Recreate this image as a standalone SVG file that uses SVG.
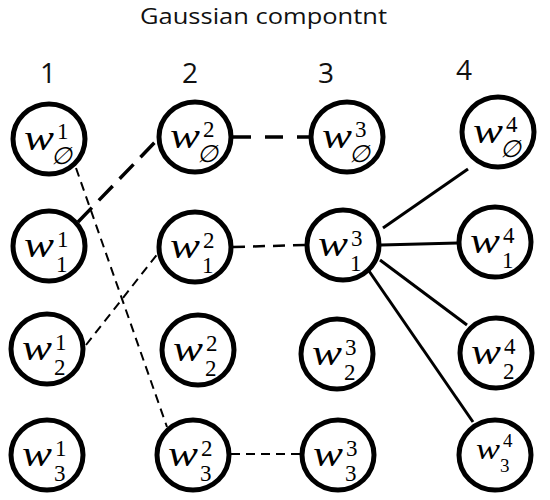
<svg xmlns="http://www.w3.org/2000/svg" width="550" height="500" viewBox="0 0 550 500">
<style>
.title{font-family:"Open Sans","Liberation Sans",sans-serif;font-size:22px;fill:#111}
.col{font-family:"Open Sans","Liberation Sans",sans-serif;font-size:28px;fill:#111;text-anchor:middle}
.nd{fill:#fff;stroke:#000;stroke-width:5}
.w{font-family:"Liberation Serif","DejaVu Serif",serif;font-style:italic;font-size:36px;fill:#000}
.s{font-family:"Liberation Serif","DejaVu Serif",serif;font-size:23px;fill:#000}
.e{font-family:"DejaVu Serif","Liberation Serif",serif;font-style:italic;font-size:24px;fill:#000}
.ln{fill:none;stroke:#000}
.thin{stroke-width:2;stroke-dasharray:9 6}
.thick{stroke-width:3.5;stroke-dasharray:20 10}
.solid{stroke-width:3}
</style>
<text class="title" x="140" y="24" textLength="247" lengthAdjust="spacingAndGlyphs">Gaussian compontnt</text>
<text class="col" x="48" y="83">1</text>
<text class="col" x="190" y="83">2</text>
<text class="col" x="326" y="83">3</text>
<text class="col" x="464" y="80">4</text>
<g id="connectors">
<line class="ln thin" x1="76" y1="168" x2="167" y2="427"/>
<line class="ln thick" x1="78" y1="222" x2="158" y2="139"/>
<line class="ln thick" x1="233" y1="137" x2="311" y2="137" style="stroke-dasharray:18 14"/>
<line class="ln thin" x1="86" y1="345" x2="159" y2="252"/>
<line class="ln thin" x1="233" y1="247" x2="306" y2="245" style="stroke-width:2.5;stroke-dasharray:12 8"/>
<line class="ln thin" x1="231" y1="454" x2="301" y2="454"/>
<line class="ln solid" x1="383" y1="228" x2="468" y2="169"/>
<line class="ln solid" x1="381" y1="245" x2="458" y2="243"/>
<line class="ln solid" x1="380" y1="260" x2="467" y2="325"/>
<line class="ln solid" x1="369" y1="271" x2="473" y2="422"/>
</g>
<g id="n1_0"><ellipse class="nd" cx="49" cy="139" rx="36" ry="35"/><text class="w" x="24" y="150" textLength="30" lengthAdjust="spacingAndGlyphs">w</text><text class="s" x="57" y="139">1</text><text class="e" x="51" y="164">∅</text></g>
<g id="n1_1"><ellipse class="nd" cx="49" cy="246" rx="36" ry="35"/><text class="w" x="24" y="257" textLength="30" lengthAdjust="spacingAndGlyphs">w</text><text class="s" x="57" y="247">1</text><text class="s" x="56" y="272">1</text></g>
<g id="n1_2"><ellipse class="nd" cx="47" cy="349" rx="36" ry="35"/><text class="w" x="22" y="360" textLength="30" lengthAdjust="spacingAndGlyphs">w</text><text class="s" x="55" y="350">1</text><text class="s" x="54" y="375">2</text></g>
<g id="n1_3"><ellipse class="nd" cx="47" cy="455" rx="36" ry="35"/><text class="w" x="22" y="466" textLength="30" lengthAdjust="spacingAndGlyphs">w</text><text class="s" x="55" y="456">1</text><text class="s" x="54" y="481">3</text></g>
<g id="n2_0"><ellipse class="nd" cx="195" cy="137" rx="36" ry="35"/><text class="w" x="170" y="148" textLength="30" lengthAdjust="spacingAndGlyphs">w</text><text class="s" x="203" y="137">2</text><text class="e" x="197" y="162">∅</text></g>
<g id="n2_1"><ellipse class="nd" cx="195" cy="247" rx="36" ry="35"/><text class="w" x="170" y="258" textLength="30" lengthAdjust="spacingAndGlyphs">w</text><text class="s" x="203" y="248">2</text><text class="s" x="202" y="273">1</text></g>
<g id="n2_2"><ellipse class="nd" cx="198" cy="350" rx="36" ry="35"/><text class="w" x="173" y="361" textLength="30" lengthAdjust="spacingAndGlyphs">w</text><text class="s" x="206" y="351">2</text><text class="s" x="205" y="376">2</text></g>
<g id="n2_3"><ellipse class="nd" cx="193" cy="455" rx="36" ry="35"/><text class="w" x="168" y="466" textLength="30" lengthAdjust="spacingAndGlyphs">w</text><text class="s" x="201" y="456">2</text><text class="s" x="200" y="481">3</text></g>
<g id="n3_0"><ellipse class="nd" cx="347" cy="137" rx="36" ry="35"/><text class="w" x="322" y="148" textLength="30" lengthAdjust="spacingAndGlyphs">w</text><text class="s" x="355" y="137">3</text><text class="e" x="349" y="162">∅</text></g>
<g id="n3_1"><ellipse class="nd" cx="343" cy="245" rx="36" ry="35"/><text class="w" x="318" y="256" textLength="30" lengthAdjust="spacingAndGlyphs">w</text><text class="s" x="351" y="246">3</text><text class="s" x="350" y="271">1</text></g>
<g id="n3_2"><ellipse class="nd" cx="337" cy="354" rx="36" ry="35"/><text class="w" x="312" y="365" textLength="30" lengthAdjust="spacingAndGlyphs">w</text><text class="s" x="345" y="355">3</text><text class="s" x="344" y="380">2</text></g>
<g id="n3_3"><ellipse class="nd" cx="338" cy="455" rx="36" ry="35"/><text class="w" x="313" y="466" textLength="30" lengthAdjust="spacingAndGlyphs">w</text><text class="s" x="346" y="456">3</text><text class="s" x="345" y="481">3</text></g>
<g id="n4_0"><ellipse class="nd" cx="498" cy="132" rx="36" ry="35"/><text class="w" x="473" y="143" textLength="30" lengthAdjust="spacingAndGlyphs">w</text><text class="s" x="506" y="132">4</text><text class="e" x="500" y="157">∅</text></g>
<g id="n4_1"><ellipse class="nd" cx="495" cy="242" rx="36" ry="35"/><text class="w" x="470" y="253" textLength="30" lengthAdjust="spacingAndGlyphs">w</text><text class="s" x="503" y="243">4</text><text class="s" x="502" y="268">1</text></g>
<g id="n4_2"><ellipse class="nd" cx="496" cy="353" rx="36" ry="35"/><text class="w" x="471" y="364" textLength="30" lengthAdjust="spacingAndGlyphs">w</text><text class="s" x="504" y="354">4</text><text class="s" x="503" y="379">2</text></g>
<g id="n4_3"><ellipse class="nd" cx="495" cy="455" rx="36" ry="35"/><text class="w" x="476" y="459" textLength="24" lengthAdjust="spacingAndGlyphs" style="font-size:30px">w</text><text class="s" x="503" y="447" style="font-size:19px">4</text><text class="s" x="500" y="472" style="font-size:19px">3</text></g>
</svg>
